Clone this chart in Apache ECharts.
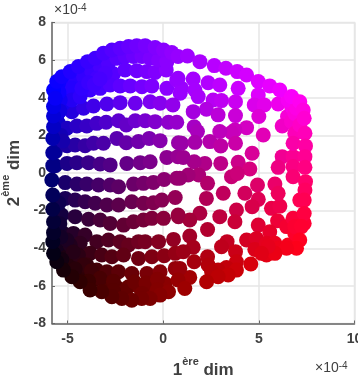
<!DOCTYPE html>
<html><head><meta charset="utf-8">
<style>html,body{margin:0;padding:0;background:#fff}#c{width:358px;height:381px}</style>
<script src="https://cdn.jsdelivr.net/npm/echarts@6/dist/echarts.min.js"></script>
</head><body><div id="c"></div>
<script>
const xTicks=[-5,0,5,10];
const rowB=[[-2.6,5.27],[-1.99,5.48],[-1.38,5.44],[-0.85,5.39],[-0.42,5.34],[0.16,5.48]];
const rowC=[[-3.82,4.41],[-3.29,4.5],[-2.77,4.68],[-2.25,4.63],[-1.72,4.63],[-1.11,4.59],[-0.59,4.63],[0.19,4.5],[0.71,4.95],[0.89,4.24]];
const rowD=[[-5.56,3.0],[-4.77,3.26],[-4.16,3.44],[-3.64,3.56],[-2.94,3.67],[-2.25,3.74],[-1.46,3.71],[-0.68,3.79],[-0.16,3.71],[0.51,3.62]];
const rowE=[[-5.47,2.64],[-5.03,2.38],[-4.51,2.5],[-3.99,2.5],[-3.47,2.64],[-2.98,2.7],[-2.33,2.78],[-1.93,2.55],[-1.46,2.78],[-0.94,2.78],[-0.42,2.73],[0.28,2.7],[0.71,2.7]];
const rowF=[[-5.64,1.13],[-5.03,1.45],[-4.6,1.49],[-4.08,1.45],[-3.64,1.58],[-3.12,1.58],[-2.42,1.84],[-1.93,1.61],[-1.29,1.67],[-0.73,1.84],[-0.16,1.72],[0.8,1.61]];
const rowG=[[-5.64,0.39],[-5.03,0.51],[-4.51,0.55],[-3.9,0.55],[-3.29,0.48],[-2.77,0.43],[-1.9,0.51],[-1.2,0.55],[-0.68,0.6],[0.19,0.83],[0.77,0.87]];
const rowH=[[-5.12,-0.51],[-4.51,-0.59],[-3.99,-0.59],[-3.38,-0.64],[-2.77,-0.64],[-2.33,-0.73],[-1.55,-0.59],[-1.03,-0.55],[-0.51,-0.5],[0.05,-0.34],[0.71,-0.28]];
const rowI=[[-5.12,-1.35],[-4.6,-1.44],[-4.08,-1.53],[-3.55,-1.61],[-2.94,-1.7],[-2.33,-1.7],[-1.64,-1.53],[-1.03,-1.61],[-0.51,-1.58],[-0.07,-1.44],[0.63,-1.3]];
const rowJ=[[-5.3,-2.23],[-4.6,-2.32],[-3.9,-2.46],[-3.29,-2.5],[-2.77,-2.68],[-2.07,-2.77],[-1.55,-2.59],[-1.03,-2.5],[-0.59,-2.41],[0.02,-2.41],[0.8,-2.32]];
const rowK=[[-5.21,-3.21],[-4.69,-3.21],[-4.08,-3.3],[-3.47,-3.65],[-2.86,-3.56],[-2.25,-3.65],[-1.81,-3.83],[-1.29,-3.65],[-0.94,-3.65],[-0.24,-3.65],[0.54,-3.53]];
const rowL=[[-4.34,-3.74],[-3.82,-4.27],[-3.21,-4.36],[-2.68,-4.45],[-2.07,-4.36],[-1.29,-4.54],[-0.59,-4.45],[0.05,-4.4],[0.63,-4.27]];
const rowM=[[-3.99,-4.89],[-3.47,-5.16],[-2.94,-5.25],[-2.33,-5.25],[-1.64,-5.34],[-0.85,-5.34],[-0.16,-5.25],[0.63,-5.07]];
const rowN=[[-4.34,-5.34],[-3.64,-5.69],[-2.94,-6.05],[-2.33,-6.14],[-1.81,-6.05],[-1.2,-6.14],[-0.59,-6.05],[0.1,-5.87]];
const fillTop=[[-5.03,4.77],[-4.6,4.86],[-4.16,5.12],[-3.73,5.39],[-3.29,5.66],[-2.86,5.83],[-2.42,6.1],[-1.99,6.19],[-1.55,6.19],[-1.11,6.19],[-0.68,6.1],[-0.24,6.01],[0.19,5.92],[-5.21,4.24],[-4.77,4.5],[-5.21,3.71],[-4.77,3.88],[-4.34,4.06],[-5.47,4.77],[-5.38,3.88],[-4.25,4.5],[-3.47,5.04],[-3.03,5.3],[-5.45,4.3],[-5.4,3.3],[-5.35,2.0],[-5.25,1.7],[-3.9,4.8],[-3.6,4.7],[-3.3,5.0]];
const fillLow=[[-5.3,-3.92],[-5.03,-4.45],[-4.77,-4.89],[-4.86,-3.83],[-4.43,-4.36],[-4.16,-4.89],[-5.03,-3.56],[-5.4,-2.7],[-5.35,-3.4],[-5.45,-1.6],[-4.7,-4.2],[-3.75,-5.2],[-3.3,-5.6],[-2.6,-5.75],[-2.0,-6.3],[-1.5,-5.8],[-0.9,-5.85],[-0.3,-5.65],[-3.9,-5.75],[-4.6,-5.1],[-5.3,-4.6],[-1.1,-6.4],[-0.3,-6.2],[-2.6,-6.25]];
const rightUpper=[[1.57,5.0],[0.96,4.5],[0.78,5.04],[1.66,4.41],[1.83,4.06],[2.35,4.8],[2.96,4.68],[2.61,3.88],[3.05,3.85],[2.26,3.39],[2.87,3.09],[1.57,3.26],[3.78,3.79],[3.78,3.05],[3.92,4.5],[4.97,4.15],[4.76,3.62],[5.28,3.62],[5.0,3.0],[6.01,3.67],[6.5,3.0],[6.22,2.5],[6.71,2.73],[4.36,2.41],[3.75,2.29],[3.57,2.15],[2.96,2.2],[1.62,2.46],[1.79,2.2],[5.23,2.02],[0.96,1.58],[1.66,1.63],[2.44,1.67],[3.01,1.44],[3.78,1.58],[4.65,1.05],[6.22,0.87],[6.79,0.87],[6.79,0.34],[6.01,0.3],[3.92,0.57],[4.53,0.21],[3.01,0.51],[2.18,0.51],[1.62,0.6],[1.05,0.83],[3.57,-0.2],[3.88,-0.02],[1.86,-0.11],[1.31,-0.11],[0.87,-0.28],[2.32,-0.55],[4.93,-0.64],[5.84,-0.59],[6.79,-0.2],[6.88,2.11],[6.79,1.58],[6.71,3.53],[6.88,3.17],[7.14,2.55],[6.53,3.88],[6.97,3.44]];
const rightLower=[[2.26,-1.35],[3.14,-1.08],[4.27,-1.08],[4.97,-1.4],[4.65,-1.79],[5.66,-1.88],[6.1,-1.76],[3.83,-1.97],[3.75,-2.59],[2.96,-2.32],[1.92,-2.14],[1.39,-2.5],[0.78,-2.23],[2.32,-3.0],[4.97,-2.77],[5.98,-2.54],[6.45,-2.85],[6.79,-2.41],[5.57,-3.12],[4.36,-3.56],[4.88,-3.48],[1.39,-3.35],[3.34,-3.65],[3.05,-3.92],[1.57,-3.95],[1.05,-4.18],[3.78,-4.18],[4.79,-4.06],[5.4,-3.74],[5.84,-3.74],[5.4,-4.36],[6.01,-4.01],[6.53,-3.83],[2.32,-4.45],[2.35,-4.89],[1.62,-4.72],[3.83,-4.72],[3.31,-5.02],[2.87,-5.16],[2.53,-5.25],[1.39,-5.55],[0.87,-5.07],[0.78,-5.69],[6.01,-1.08],[7.14,-1.44],[6.88,-3.21],[6.88,-2.85],[7.37,-2.68]];
const rimTop=[[-5.73,4.41],[-5.56,4.86],[-5.3,5.12],[-4.86,5.39],[-4.43,5.66],[-3.95,5.92],[-3.55,6.1],[-3.12,6.37],[-2.68,6.54],[-2.25,6.63],[-1.81,6.72],[-1.38,6.77],[-0.94,6.77],[-0.42,6.67],[0.02,6.54],[0.45,6.4],[0.78,6.19],[1.27,6.22],[1.92,5.92],[2.67,5.71],[3.28,5.57],[3.87,5.39],[4.36,5.21],[4.97,4.86],[5.57,4.63],[6.1,4.41],[6.71,4.06],[7.14,3.79]];
const rimRight=[[7.32,3.35],[7.37,2.91],[7.41,2.11],[7.44,1.44],[7.41,0.87],[7.41,0.3],[7.44,-0.46],[7.41,-0.9],[7.37,-1.44],[7.37,-2.15],[7.23,-2.85],[7.14,-3.56],[6.97,-4.0],[6.45,-4.0],[5.84,-4.27],[5.49,-3.9],[5.14,-4.27],[4.58,-4.84],[3.83,-5.16],[3.4,-5.42],[2.87,-5.51],[2.27,-5.78],[1.13,-6.14]];
const rimBottom=[[0.28,-6.31],[-0.16,-6.49],[-0.68,-6.67],[-1.12,-6.67],[-1.64,-6.76],[-2.16,-6.67],[-2.68,-6.58],[-3.21,-6.31],[-3.82,-6.22],[-4.34,-5.78],[-4.77,-5.51],[-5.21,-5.16],[-5.56,-4.72],[-5.73,-4.27],[-5.77,-3.65],[-5.73,-3.17],[-5.73,-2.59],[-5.77,-1.93],[-5.77,-1.17]];
const rimLeft=[[-5.82,-0.37],[-5.77,0.39],[-5.77,1.08],[-5.77,1.84],[-5.73,2.46],[-5.73,3.03],[-5.73,3.53],[-5.64,3.97]];
const points=[].concat(rowB,rowC,rowD,rowE,rowF,rowG,rowH,rowI,rowJ,rowK,rowL,rowM,rowN,fillTop,fillLow,rightUpper,rightLower,rimTop,rimRight,rimBottom,rimLeft);

const clamp=v=>Math.max(0,Math.min(1,v));
function colorOf(x,y){
  const r=Math.round(255*Math.pow(clamp((x+5.8)/12.9),0.78));
  const b=Math.round(255*Math.pow(clamp((y+6)/10.2),1.4));
  return 'rgb('+r+',0,'+b+')';
}
const FONT='"Liberation Sans",Arial,sans-serif';
const INK='#404040';
const rich={
  b:{fontFamily:FONT,fontWeight:'bold',fontSize:17,color:INK,verticalAlign:'bottom',lineHeight:22},
  s:{fontFamily:FONT,fontWeight:'bold',fontSize:11,color:INK,verticalAlign:'top',lineHeight:22,padding:[0,0,6,0]}
};
const chart=echarts.init(document.getElementById('c'),null,{renderer:'canvas'});
const axisCommon={
  axisLine:{show:true,onZero:false,lineStyle:{color:'#666',width:1.5}},
  axisTick:{show:true,inside:true,length:3,lineStyle:{color:'#666'}},
  splitLine:{show:true,lineStyle:{color:'#e6e6e6',width:1.5}},
  axisLabel:{fontFamily:FONT,fontWeight:'bold',fontSize:14,color:INK,showMinLabel:true,showMaxLabel:true},
  nameLocation:'middle',
  nameTextStyle:{rich:rich}
};
chart.setOption({
  animation:false,
  backgroundColor:'#fff',
  grid:{left:52,right:3.5,top:22.5,bottom:57.5,outerBoundsMode:'none',containLabel:false,show:true,borderColor:'#e6e6e6',borderWidth:1.5,backgroundColor:'transparent'},
  xAxis:Object.assign({},axisCommon,{type:'value',min:-5.81,max:10,
    axisLabel:Object.assign({},axisCommon.axisLabel,{margin:9,customValues:xTicks}),
    axisTick:Object.assign({},axisCommon.axisTick,{customValues:xTicks}),
    splitLine:axisCommon.splitLine,
    name:'{b|1}{s|ère}{b| dim}',nameGap:33}),
  yAxis:Object.assign({},axisCommon,{type:'value',min:-8,max:8,interval:2,
    axisLabel:Object.assign({},axisCommon.axisLabel,{margin:6}),
    name:'{b|2}{s|ème}{b| dim}',nameGap:20}),
  graphic:[
    {type:'text',left:54,top:3,z:10,style:{rich:{
      m:{fontFamily:FONT,fontSize:14,fill:INK,verticalAlign:'bottom'},
      b:{fontFamily:FONT,fontSize:14,fill:INK,verticalAlign:'bottom'},
      s:{fontFamily:FONT,fontSize:10,fill:INK,verticalAlign:'top'}},text:'{m|×}{b|10}{s|-4}'}},
    {type:'text',left:315,top:361,z:10,style:{rich:{
      m:{fontFamily:FONT,fontSize:14,fill:INK,verticalAlign:'bottom'},
      b:{fontFamily:FONT,fontSize:14,fill:INK,verticalAlign:'bottom'},
      s:{fontFamily:FONT,fontSize:10,fill:INK,verticalAlign:'top'}},text:'{m|×}{b|10}{s|-4}'}}
  ],
  series:[{type:'scatter',symbol:'circle',symbolSize:15,
    data:points,
    itemStyle:{opacity:1,color:p=>colorOf(p.value[0],p.value[1])},
    clip:false}]
});
</script></body></html>
